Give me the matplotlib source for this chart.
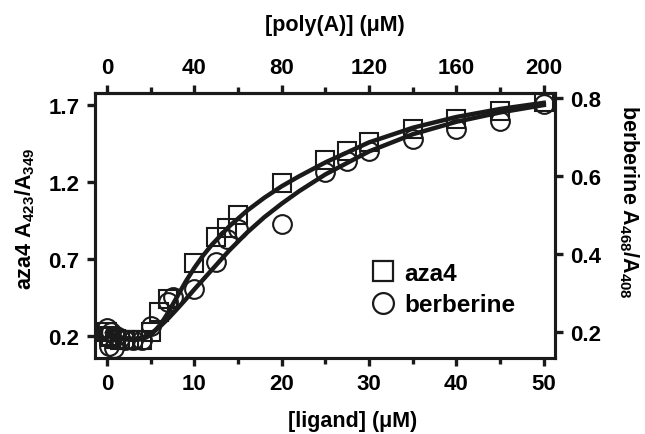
import numpy as np
import matplotlib
matplotlib.use("Agg")
import matplotlib.pyplot as plt
from matplotlib.lines import Line2D

plt.rcParams['font.family'] = ['Liberation Sans', 'DejaVu Sans']
plt.rcParams['font.weight'] = 'bold'
plt.rcParams['mathtext.fontset'] = 'custom'
plt.rcParams['mathtext.rm'] = 'Liberation Sans:bold'
plt.rcParams['mathtext.it'] = 'Liberation Sans:bold'
plt.rcParams['mathtext.bf'] = 'Liberation Sans:bold'

# aza4 titration (left axis)
aza4_x = [0, 0.25, 0.5, 1, 1.5, 2, 2.5, 3, 4, 5, 6, 7, 10, 12.5, 13.75, 15,
          20, 25, 27.5, 30, 35, 40, 45, 50]
aza4_y = [0.22, 0.20, 0.19, 0.18, 0.17, 0.17, 0.17, 0.17, 0.17, 0.22, 0.35,
          0.44, 0.67, 0.84, 0.90, 0.98, 1.19, 1.34, 1.40, 1.46, 1.54, 1.61,
          1.66, 1.72]

# berberine titration (right axis)
berb_x = [0, 0.25, 0.5, 0.75, 1, 1.5, 2, 3, 4, 5, 7, 7.5, 10, 12.5, 13.75,
          15, 20, 25, 27.5, 30, 35, 40, 45, 50]
berb_y = [0.21, 0.165, 0.20, 0.16, 0.19, 0.185, 0.18, 0.18, 0.18, 0.215,
          0.277, 0.29, 0.311, 0.379, 0.439, 0.465, 0.478, 0.61, 0.64, 0.666,
          0.696, 0.721, 0.743, 0.785]

# fitted curves
aza4_fit_x = [0, 1, 2, 3, 3.5, 4, 4.5, 5, 5.5, 6, 6.5, 7, 8, 9, 10, 11, 12,
              14, 16, 18, 20, 22, 25, 30, 35, 40, 45, 50]
aza4_fit_y = [0.20, 0.185, 0.175, 0.172, 0.173, 0.177, 0.188, 0.205, 0.232,
              0.265, 0.305, 0.35, 0.45, 0.55, 0.64, 0.72, 0.79, 0.91, 1.01,
              1.095, 1.17, 1.235, 1.325, 1.455, 1.55, 1.62, 1.672, 1.712]
berb_fit_x = [0, 1, 2, 3, 4, 5, 6, 7, 8, 9, 10, 11, 12, 14, 16, 18, 20, 22,
              25, 30, 35, 40, 45, 50]
berb_fit_y = [0.20, 0.19, 0.185, 0.183, 0.186, 0.196, 0.213, 0.235, 0.259,
              0.284, 0.31, 0.335, 0.36, 0.41, 0.455, 0.495, 0.53, 0.562,
              0.605, 0.664, 0.708, 0.740, 0.764, 0.783]

ink = '#1a1a1a'

fig = plt.figure(figsize=(6.45, 4.35), dpi=100)
ax = fig.add_axes([0.147, 0.175, 0.713, 0.609])
ax2 = ax.twinx()

ax.plot(aza4_fit_x, aza4_fit_y, color=ink, lw=3.2, zorder=2,
        solid_joinstyle='round')
ax.plot(aza4_x, aza4_y, ls='none', marker='s', ms=12.5, mfc='none', mec=ink,
        mew=1.5, zorder=3)
ax2.plot(berb_fit_x, berb_fit_y, color=ink, lw=3.2, zorder=2,
         solid_joinstyle='round')
ax2.plot(berb_x, berb_y, ls='none', marker='o', ms=13.5, mfc='none', mec=ink,
         mew=1.5, zorder=3)

ax.set_xlim(-1.4, 51.25)
ax.set_ylim(0.055, 1.776)
ax2.set_ylim(0.134, 0.814)

ax.set_xticks([0, 10, 20, 30, 40, 50])
ax.set_xticks([5, 15, 25, 35, 45], minor=True)
ax.set_yticks([0.2, 0.7, 1.2, 1.7])
ax2.set_yticks([0.2, 0.4, 0.6, 0.8])

top = ax.secondary_xaxis('top', functions=(lambda x: 4 * x, lambda x: x / 4))
top.set_xticks([0, 40, 80, 120, 160, 200])
top.set_xticks([20, 60, 100, 140, 180], minor=True)

for a in (ax, ax2, top):
    a.tick_params(which='major', direction='out', length=6, width=2.4,
                  color=ink, labelsize=16, pad=5)
    a.tick_params(which='minor', direction='out', length=4, width=2.4,
                  color=ink)
    for sp in a.spines.values():
        sp.set_linewidth(2.2)
        sp.set_color(ink)

ax.set_yticklabels(['0.2', '0.7', '1.2', '1.7'])
ax2.set_yticklabels(['0.2', '0.4', '0.6', '0.8'])

ax.set_xlabel('[ligand] (μM)', fontsize=15.5, fontweight='bold')
ax.xaxis.set_label_coords(0.561, -0.238, transform=ax.transAxes)
ax.xaxis.label.set_va('center')
top.set_xlabel('[poly(A)] (μM)', fontsize=15.5, fontweight='bold')
top.xaxis.set_label_coords(0.522, 1.26, transform=ax.transAxes)
top.xaxis.label.set_va('center')
ax.set_ylabel(r'aza4 A$_{423}$/A$_{349}$', fontsize=15.5, fontweight='bold')
ax.yaxis.set_label_coords(-0.152, 0.528, transform=ax.transAxes)
ax.yaxis.label.set_va('center')
ax2.set_ylabel(r'berberine A$_{468}$/A$_{408}$', fontsize=15.5,
               fontweight='bold', rotation=270)
ax2.yaxis.set_label_coords(1.162, 0.592, transform=ax.transAxes)
ax2.yaxis.label.set_va('center')

handles = [
    Line2D([], [], ls='none', marker='s', ms=14, mfc='white', mec=ink, mew=1.6),
    Line2D([], [], ls='none', marker='o', ms=15, mfc='white', mec=ink, mew=1.6),
]
ax2.legend(handles, ['aza4', 'berberine'], loc='upper left',
           bbox_to_anchor=(0.548, 0.445), frameon=False,
           handletextpad=0.25, labelspacing=0.35, handlelength=1.2,
           prop={'weight': 'bold', 'size': 17.5})

fig.savefig('out.png', dpi=100)
